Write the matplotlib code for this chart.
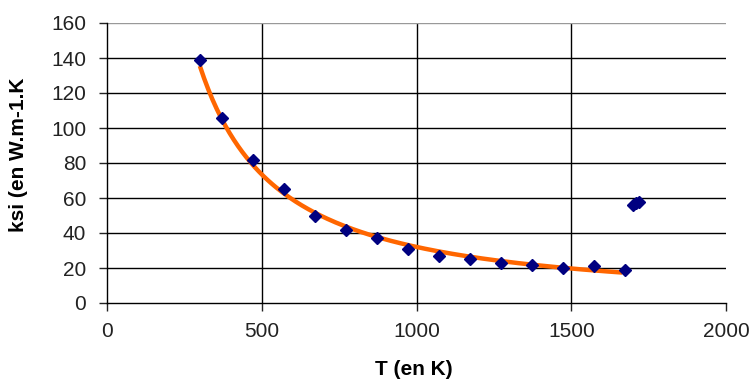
import numpy as np
import matplotlib
matplotlib.use("Agg")
import matplotlib.pyplot as plt

plt.rcParams['font.family'] = ['Liberation Sans', 'DejaVu Sans']

# measured points
T = [300, 373, 473, 573, 673, 773, 873, 973, 1073, 1173, 1273, 1373, 1473, 1573, 1673, 1700, 1710, 1720]
ksi = [139, 106, 82, 65, 50, 42, 37, 31, 27, 25, 23, 22, 20, 21, 19, 56, 57, 58]

# power trendline fitted on the solid-phase points (first 15)
n_fit = 15
b, loga = np.polyfit(np.log(T[:n_fit]), np.log(ksi[:n_fit]), 1)
t_fit = np.linspace(T[0], 1665, 200)
k_fit = np.exp(loga) * t_fit ** b

fig = plt.figure(figsize=(7.52, 3.82), dpi=100)
ax = fig.add_axes([107 / 752, 79 / 382, 619 / 752, 280 / 382])

ax.plot(t_fit, k_fit, color='#ff6600', lw=3.2, zorder=2, solid_capstyle='butt')
ax.plot(T, ksi, linestyle='none', marker='D', ms=6, color='#000080', zorder=3)

ax.set_xlim(0, 2000)
ax.set_ylim(0, 160)
ax.set_xticks([0, 500, 1000, 1500, 2000])
ax.set_yticks(range(0, 161, 20))

for v in [500, 1000, 1500]:
    ax.axvline(v, color='black', lw=1, zorder=1)
for v in range(20, 161, 20):
    ax.axhline(v, color='black' if v < 160 else '#999999', lw=1, zorder=1)

for s in ['top', 'right']:
    ax.spines[s].set_visible(False)
ax.spines['left'].set_linewidth(1)
ax.spines['bottom'].set_linewidth(1)
ax.tick_params(direction='out', length=6, width=1, labelsize=15, colors='#222222')
ax.tick_params(axis='y', pad=9)
ax.tick_params(axis='x', pad=8)

ax.set_xlabel('T (en K)', fontsize=15, fontweight='bold')
ax.set_ylabel('ksi (en W.m-1.K', fontsize=15, fontweight='bold')
ax.xaxis.set_label_coords(0.495, -0.205)
ax.yaxis.set_label_coords(-0.128, 0.53)

fig.savefig('out.png', dpi=100)
